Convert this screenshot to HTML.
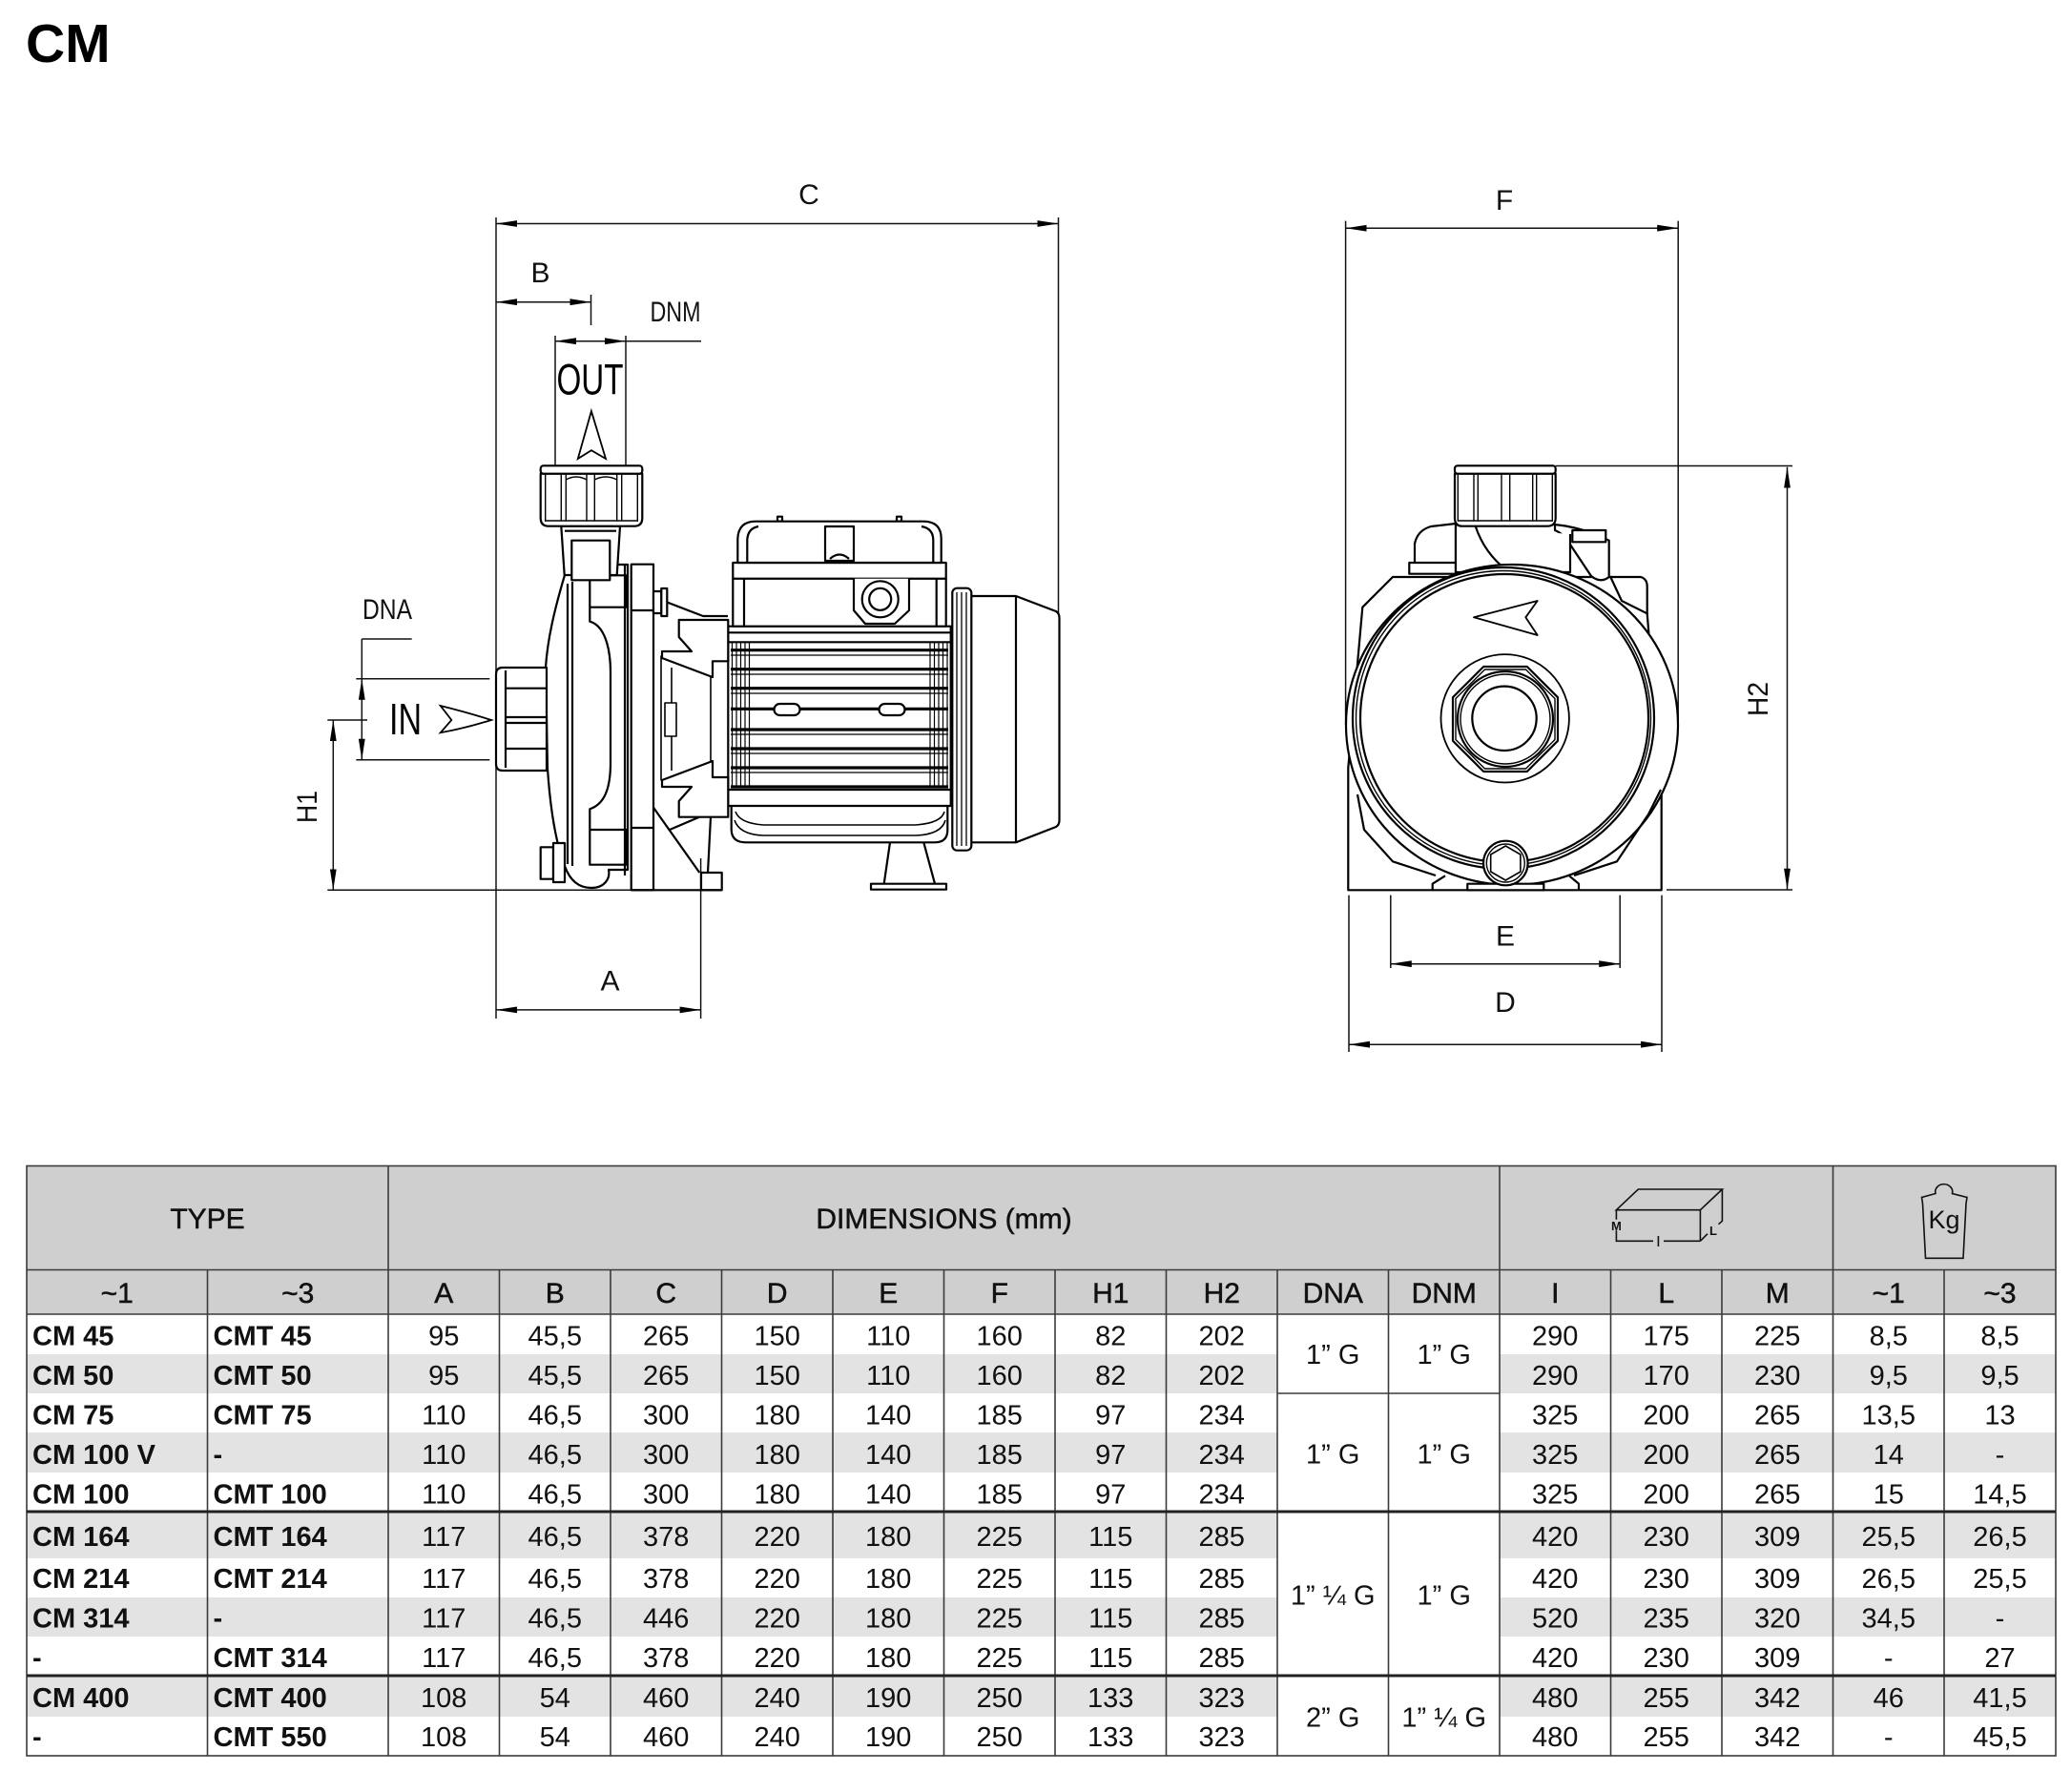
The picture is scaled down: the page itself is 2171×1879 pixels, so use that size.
<!DOCTYPE html>
<html><head><meta charset="utf-8"><style>
html,body{margin:0;padding:0;background:#fff;}
svg{display:block;}
text{font-family:"Liberation Sans",Arial,sans-serif;}
</style></head><body>
<svg width="2171" height="1879" viewBox="0 0 2171 1879" xmlns="http://www.w3.org/2000/svg">
<defs>
<marker id="ar" viewBox="0 0 22 8" refX="22" refY="4" markerWidth="22" markerHeight="8" markerUnits="userSpaceOnUse" orient="auto-start-reverse"><path d="M0,0.6 L22,4 L0,7.4 z" fill="#000"/></marker>
</defs>
<rect width="2171" height="1879" fill="#fff"/>
<text x="27" y="65" font-size="57" font-weight="bold" fill="#000">CM</text>

<!-- ===== Dimension lines ===== -->
<g stroke="#111" stroke-width="1.5" fill="none">
<!-- side view -->
<path d="M520,234.5 H1109.5" marker-start="url(#ar)" marker-end="url(#ar)"/>
<path d="M520,228 V1068"/>
<path d="M1109.5,228 V645"/>
<path d="M520,316.7 H619.5" marker-start="url(#ar)" marker-end="url(#ar)"/>
<path d="M619.5,309 V341"/>
<path d="M582,357.7 H656" marker-start="url(#ar)" marker-end="url(#ar)"/>
<path d="M656,357.7 H735"/>
<path d="M582,352 V488"/>
<path d="M656,352 V488"/>
<path d="M379.3,670 H431.7"/>
<path d="M379.3,670 V796.7"/>
<path d="M373.3,711.7 H513.3"/>
<path d="M373.3,796.7 H513.3"/>
<path d="M349.3,755 V933.3" marker-start="url(#ar)" marker-end="url(#ar)"/>
<path d="M343.3,755 H385"/>
<path d="M343.3,933.3 H661.7"/>
<path d="M520,1058.9 H734.6" marker-start="url(#ar)" marker-end="url(#ar)"/>
<path d="M734.6,900 V1068"/>
<!-- front view -->
<path d="M1410.6,239.2 H1759.2" marker-start="url(#ar)" marker-end="url(#ar)"/>
<path d="M1410.6,231.6 V760"/>
<path d="M1759.2,231.6 V760"/>
<path d="M1873.5,489.7 V932.7" marker-start="url(#ar)" marker-end="url(#ar)"/>
<path d="M1630.7,488.5 H1879"/>
<path d="M1747,933 H1879"/>
<path d="M1457.8,1010.7 H1698.2" marker-start="url(#ar)" marker-end="url(#ar)"/>
<path d="M1457.8,938.6 V1015"/>
<path d="M1698.2,938.6 V1015"/>
<path d="M1414,1095.2 H1742" marker-start="url(#ar)" marker-end="url(#ar)"/>
<path d="M1414,938.6 V1103"/>
<path d="M1742,938.6 V1103"/>
</g>
<g fill="#000">
<polygon points="379.3,711.7 375.9,733.7 382.7,733.7"/>
<polygon points="379.3,796.7 375.9,774.7 382.7,774.7"/>
</g>

<!-- arrows IN / OUT -->
<g stroke="#000" stroke-width="1.8" fill="#fff" stroke-linejoin="miter">
<path d="M605.8,481 L619.9,431.1 L635,481 L619.9,472.2 Z"/>
<path d="M461.7,740 Q490,747 515,755 Q490,763 461.7,768.3 L473.3,755 Z"/>
</g>

<!-- dimension labels -->
<g font-size="30" fill="#111" text-anchor="middle">
<text x="848" y="214">C</text>
<text x="566.5" y="296">B</text>
<text x="708" y="337" textLength="53" lengthAdjust="spacingAndGlyphs">DNM</text>
<text x="406" y="649" textLength="52" lengthAdjust="spacingAndGlyphs">DNA</text>
<text x="639.5" y="1038.5">A</text>
<text x="1577" y="220">F</text>
<text x="1578" y="991.5">E</text>
<text x="1578" y="1061">D</text>
<text x="321" y="857" transform="rotate(-90 321 846)" textLength="34" lengthAdjust="spacingAndGlyphs">H1</text>
<text x="1842" y="744" transform="rotate(-90 1842 733)" textLength="36" lengthAdjust="spacingAndGlyphs">H2</text>
</g>
<text x="618.5" y="413.5" font-size="45" text-anchor="middle" fill="#000" textLength="70" lengthAdjust="spacingAndGlyphs">OUT</text>
<text x="425" y="770" font-size="46" text-anchor="middle" fill="#000" textLength="34" lengthAdjust="spacingAndGlyphs">IN</text>

<!-- ===== Side view pump ===== -->
<g stroke="#000" stroke-width="2.2" fill="#fff" stroke-linejoin="round">
<!-- fan cover -->
<path d="M1018,625 L1065,625 L1107,641 Q1110.5,643 1110.5,648 L1110.5,860 Q1110.5,865 1107,867 L1065,883.3 L1018,883.3 Z"/>
<line x1="1065" y1="625" x2="1065" y2="883.3"/>
<rect x="998.3" y="616.7" width="20" height="275" rx="5"/>
<line x1="1003" y1="621" x2="1003" y2="887" stroke-width="1.3"/>
<line x1="1008" y1="621" x2="1008" y2="887" stroke-width="1.3"/>
<line x1="1013" y1="621" x2="1013" y2="887" stroke-width="1.3"/>
<!-- motor lower -->
<path d="M766.7,840 L766.7,870 Q767,883.3 782,883.3 L980,883.3 Q993.3,883.3 993.3,870 L993.3,840 Z"/>
<path d="M771,851 Q775,863 800,865 L960,865 Q987,863 990,851" fill="none" stroke-width="1.6"/>
<path d="M770,860 Q775,875 800,876 L960,876 Q987,875 991,860" fill="none" stroke-width="1.6"/>
<!-- motor frame -->
<rect x="763.3" y="656.7" width="233.4" height="188.3"/>
<line x1="763.3" y1="663.3" x2="996.7" y2="663.3"/>
<line x1="763.3" y1="673.3" x2="996.7" y2="673.3"/>
<line x1="763.3" y1="828" x2="996.7" y2="828"/>
<g stroke-width="3.2">
<line x1="766" y1="681.7" x2="994" y2="681.7"/>
<line x1="766" y1="701.7" x2="994" y2="701.7"/>
<line x1="766" y1="721.7" x2="994" y2="721.7"/>
<line x1="766" y1="743.3" x2="994" y2="743.3"/>
<line x1="766" y1="765" x2="994" y2="765"/>
<line x1="766" y1="785" x2="994" y2="785"/>
<line x1="766" y1="805" x2="994" y2="805"/>
<line x1="766" y1="825" x2="994" y2="825"/>
</g>
<g stroke-width="1.2">
<line x1="766" y1="687" x2="994" y2="687"/>
<line x1="766" y1="707" x2="994" y2="707"/>
<line x1="766" y1="727" x2="994" y2="727"/>
<line x1="766" y1="770" x2="994" y2="770"/>
<line x1="766" y1="790" x2="994" y2="790"/>
<line x1="766" y1="810" x2="994" y2="810"/>
<line x1="767.5" y1="673.3" x2="767.5" y2="825"/>
<line x1="772" y1="673.3" x2="772" y2="825"/>
<line x1="776.5" y1="673.3" x2="776.5" y2="825"/>
<line x1="781" y1="673.3" x2="781" y2="825"/>
<line x1="785.5" y1="673.3" x2="785.5" y2="825"/>
<line x1="975" y1="673.3" x2="975" y2="825"/>
<line x1="979.5" y1="673.3" x2="979.5" y2="825"/>
<line x1="984" y1="673.3" x2="984" y2="825"/>
<line x1="988.5" y1="673.3" x2="988.5" y2="825"/>
<line x1="993" y1="673.3" x2="993" y2="825"/>
</g>
<rect x="811.5" y="738" width="27" height="12" rx="6"/>
<rect x="921.5" y="738" width="27" height="12" rx="6"/>
<!-- terminal box -->
<rect x="768.3" y="606.7" width="223.4" height="50"/>
<line x1="780" y1="606.7" x2="780" y2="656.7"/>
<line x1="981.7" y1="606.7" x2="981.7" y2="656.7"/>
<rect x="768.3" y="590" width="223.4" height="16.7"/>
<rect x="815" y="541.7" width="5" height="5"/>
<rect x="940" y="541.7" width="5" height="5"/>
<path d="M773.3,590 L773.3,565 Q774,546.7 792,546.7 L968,546.7 Q986.7,546.7 986.7,565 L986.7,590 Z"/>
<path d="M783.3,590 L783.3,566 Q784,554 795,552" fill="none"/>
<path d="M978.3,590 L978.3,566 Q978,554 966,552" fill="none"/>
<rect x="865" y="552" width="30" height="36"/>
<path d="M870,586 Q880,577 890,586" fill="none"/>
<path d="M895,606.7 L895,640 L907,654 L938,654 L953,640 L953,606.7"/>
<circle cx="922.7" cy="628.3" r="19"/>
<circle cx="922.7" cy="628.3" r="11.5"/>
<!-- foot -->
<path d="M933,883.3 L926.7,926.7 M968.3,883.3 L980,926.7" fill="none"/>
<rect x="913" y="926.7" width="79" height="6"/>
<!-- lantern / bracket -->
<path d="M685,626 L737,646 L763,646" fill="none"/>
<rect x="693" y="688" width="52" height="130" stroke-width="1.6"/>
<line x1="704" y1="700" x2="704" y2="808" stroke-width="1.6"/>
<rect x="697" y="737" width="12" height="35" stroke-width="1.6"/>
<path d="M711.7,650 L763.3,650 L763.3,693.3 L747,693.3 L747,710 L694,690 L694,683 L725,683 L711.7,668 Z"/>
<path d="M711.7,856.7 L763.3,856.7 L763.3,815 L747,815 L747,798 L694,818 L694,825 L725,825 L711.7,840 Z"/>
<path d="M685,846.7 L733.3,915" fill="none"/>
<path d="M702,870 L733,856.7" fill="none"/>
<path d="M745,856.7 L742,915" fill="none"/>
<rect x="661.7" y="591.7" width="23.3" height="341.6"/>
<line x1="661.7" y1="640" x2="685" y2="640"/>
<line x1="661.7" y1="868" x2="685" y2="868"/>
<rect x="685" y="620" width="8.3" height="23"/>
<rect x="693.3" y="617" width="6" height="29"/>
<rect x="735" y="915" width="21.7" height="18.3"/>
<line x1="661.7" y1="933.3" x2="756.7" y2="933.3"/>
<!-- casing -->
<path d="M592,603 C581,640 574,670 572,700 L574,806 C577,850 583,885 592,908 C598,925 608,931 620,931 C633,931 640,922 638,912 L658,912 L658,592 L612,592 Z"/>
<line x1="595" y1="612" x2="595" y2="906"/>
<line x1="600" y1="610" x2="600" y2="908"/>
<rect x="618.3" y="603.3" width="38.4" height="33.4"/>
<rect x="618.3" y="870" width="38.4" height="36.7"/>
<path d="M618.3,636.7 L618.3,651.7 C634,656 640,680 640,705 L640,800 C640,826 634,843 618.3,848.3 L618.3,870" fill="none"/>
<line x1="655" y1="592" x2="655" y2="918"/>
<rect x="566.7" y="888.3" width="13.3" height="33.4"/>
<rect x="580" y="884" width="12" height="41"/>
<!-- neck -->
<path d="M588.3,551.7 L591.7,603 L646.7,603 L650,551.7 Z"/>
<rect x="599.3" y="566.7" width="40" height="41.6"/>
<line x1="592" y1="556.7" x2="646" y2="556.7"/>
<!-- outlet nut -->
<path d="M566.7,496.7 L566.7,543 Q566.7,551.7 575,551.7 L665,551.7 Q673.3,551.7 673.3,543 L673.3,496.7 Z"/>
<rect x="566.7" y="488.3" width="106.6" height="8.4" rx="3"/>
<g stroke-width="1.4">
<line x1="571.7" y1="496.7" x2="571.7" y2="546.7"/>
<line x1="588.3" y1="496.7" x2="588.3" y2="546.7"/>
<line x1="593.3" y1="496.7" x2="593.3" y2="546.7"/>
<line x1="615" y1="496.7" x2="615" y2="546.7"/>
<line x1="623.3" y1="496.7" x2="623.3" y2="546.7"/>
<line x1="646.7" y1="496.7" x2="646.7" y2="546.7"/>
<line x1="651.7" y1="496.7" x2="651.7" y2="546.7"/>
<line x1="668.3" y1="496.7" x2="668.3" y2="546.7"/>
<line x1="571" y1="546" x2="669" y2="546"/>
<path d="M593.3,503 Q604,497 615,503" fill="none"/>
<path d="M623.3,503 Q635,497 646.7,503" fill="none"/>
</g>
<!-- inlet nut -->
<path d="M573,700 L527,700 Q520,700 520,707 L520,801 Q520,808 527,808 L573,808 Z"/>
<line x1="530" y1="703" x2="530" y2="805"/>
<line x1="530" y1="721.7" x2="573" y2="721.7"/>
<line x1="530" y1="752" x2="573" y2="752"/>
<line x1="530" y1="758" x2="573" y2="758"/>
<line x1="530" y1="785" x2="573" y2="785"/>
</g>

<!-- ===== Front view pump ===== -->
<g stroke="#000" stroke-width="2.2" fill="#fff" stroke-linejoin="round">
<path d="M1413.3,933.3 L1413.3,805 L1428.3,636.7 L1460,605 L1690,605 L1726.7,643.3 L1741.7,828 L1741.7,933.3 Z"/>
<!-- top bumps -->
<path d="M1526,549 L1500,552 Q1486,556 1483,570 L1483,593 L1526,593 Z"/>
<rect x="1477.3" y="590" width="48.7" height="11.7"/>
<path d="M1630,550 Q1660,553 1686.7,566.7 L1686.7,605 Q1678,612 1668,604 L1646.7,572 Q1640,560 1630,556 Z"/>
<rect x="1648.3" y="556" width="35" height="12.3"/>
<path d="M1688.3,605 L1720,605 Q1726.7,607 1726.7,615 L1726.7,643.3 L1700,630 Z"/>
<path d="M1526,551 L1526,600 L1646,600 L1646,560" />
<path d="M1546.7,551.7 Q1556,580 1580,598.3" fill="none"/>
<!-- main circle -->
<ellipse cx="1585" cy="760" rx="174" ry="168"/>
<circle cx="1576" cy="753" r="158"/>
<circle cx="1576" cy="753" r="154.5" fill="none" stroke-width="1.4"/>
<circle cx="1577" cy="753" r="151" fill="none"/>
<path d="M1423,833 L1430,870 L1460,903.3 L1505,918" fill="none"/>
<path d="M1741,828 L1728.3,853.3 L1695,903.3 L1650,918" fill="none"/>
<path d="M1501.7,933.3 L1501.7,926.7 L1515,918.3" fill="none"/>
<path d="M1655,933.3 L1655,926.7 L1645,918.3" fill="none"/>
<rect x="1538.3" y="926.7" width="80" height="6.6"/>
<!-- outlet nut front -->
<path d="M1525,496.7 L1525,543 Q1525,551.7 1533,551.7 L1622,551.7 Q1630.7,551.7 1630.7,543 L1630.7,496.7 Z"/>
<rect x="1525" y="488.3" width="105.7" height="8.4" rx="3"/>
<g stroke-width="1.4">
<line x1="1528.3" y1="496.7" x2="1528.3" y2="546.7"/>
<line x1="1545" y1="496.7" x2="1545" y2="546.7"/>
<line x1="1549.3" y1="496.7" x2="1549.3" y2="546.7"/>
<line x1="1574" y1="496.7" x2="1574" y2="546.7"/>
<line x1="1582.7" y1="496.7" x2="1582.7" y2="546.7"/>
<line x1="1606.7" y1="496.7" x2="1606.7" y2="546.7"/>
<line x1="1610.7" y1="496.7" x2="1610.7" y2="546.7"/>
<line x1="1627.3" y1="496.7" x2="1627.3" y2="546.7"/>
<line x1="1528" y1="546" x2="1628" y2="546"/>
</g>
<!-- arrow -->
<path d="M1545,647.3 L1611.7,630 L1599.3,647.3 L1611.7,666 Z" stroke-width="1.8"/>
<!-- inlet -->
<circle cx="1577.7" cy="753.3" r="67.2" stroke-width="1.8"/>
<polygon points="1633,776.8 1600.8,809 1555.2,809 1523,776.8 1523,731.2 1555.2,699 1600.8,699 1633,731.2"/>
<polygon points="1630,775.5 1599.5,806 1556.5,806 1526,775.5 1526,732.5 1556.5,702 1599.5,702 1630,732.5" stroke-width="1.4"/>
<circle cx="1578" cy="754" r="50"/>
<circle cx="1578" cy="754" r="47" stroke-width="1.4"/>
<circle cx="1577" cy="753.3" r="33.7"/>
<!-- drain plug -->
<circle cx="1578.3" cy="905" r="23.3"/>
<circle cx="1578.3" cy="905" r="20" stroke-width="1.4"/>
<polygon points="1578.3,887 1593.9,896 1593.9,914 1578.3,923 1562.7,914 1562.7,896" stroke-width="1.6"/>
</g>

<!-- ===== TABLE ===== -->
<rect x="28" y="1222.5" width="2127" height="155.5" fill="#cfcfcf"/>
<g fill="#e3e3e3">
<rect x="28" y="1420" width="1311" height="41"/><rect x="1572" y="1420" width="583" height="41"/>
<rect x="28" y="1502" width="1311" height="42"/><rect x="1572" y="1502" width="583" height="42"/>
<rect x="28" y="1585" width="1311" height="49"/><rect x="1572" y="1585" width="583" height="49"/>
<rect x="28" y="1675" width="1311" height="41"/><rect x="1572" y="1675" width="583" height="41"/>
<rect x="28" y="1757" width="1311" height="43"/><rect x="1572" y="1757" width="583" height="43"/>
</g>
<g stroke="#3a3a3a" stroke-width="1.6" fill="none">
<rect x="28" y="1222.5" width="2127" height="618.5"/>
<line x1="28" y1="1331.5" x2="2155" y2="1331.5"/>
<line x1="28" y1="1378" x2="2155" y2="1378"/>
<line x1="407" y1="1222.5" x2="407" y2="1331.5"/>
<line x1="1572" y1="1222.5" x2="1572" y2="1331.5"/>
<line x1="1921.5" y1="1222.5" x2="1921.5" y2="1331.5"/>
<line x1="217.5" y1="1331.5" x2="217.5" y2="1841"/>
<line x1="407" y1="1331.5" x2="407" y2="1841"/>
<line x1="523.5" y1="1331.5" x2="523.5" y2="1841"/>
<line x1="640" y1="1331.5" x2="640" y2="1841"/>
<line x1="756.5" y1="1331.5" x2="756.5" y2="1841"/>
<line x1="873" y1="1331.5" x2="873" y2="1841"/>
<line x1="989.5" y1="1331.5" x2="989.5" y2="1841"/>
<line x1="1106" y1="1331.5" x2="1106" y2="1841"/>
<line x1="1222.5" y1="1331.5" x2="1222.5" y2="1841"/>
<line x1="1339" y1="1331.5" x2="1339" y2="1841"/>
<line x1="1455.5" y1="1331.5" x2="1455.5" y2="1841"/>
<line x1="1572" y1="1331.5" x2="1572" y2="1841"/>
<line x1="1688.5" y1="1331.5" x2="1688.5" y2="1841"/>
<line x1="1805" y1="1331.5" x2="1805" y2="1841"/>
<line x1="1921.5" y1="1331.5" x2="1921.5" y2="1841"/>
<line x1="2038" y1="1331.5" x2="2038" y2="1841"/>
<line x1="1339" y1="1461" x2="1572" y2="1461"/>
<line x1="28" y1="1585" x2="2155" y2="1585" stroke="#222" stroke-width="3"/>
<line x1="28" y1="1757" x2="2155" y2="1757" stroke="#222" stroke-width="3"/>
</g>

<!-- header texts -->
<g font-size="30" fill="#111" text-anchor="middle" stroke="#111" stroke-width="0.5">
<text x="217.5" y="1288">TYPE</text>
<text x="989.5" y="1288">DIMENSIONS (mm)</text>
<text x="122.75" y="1366">~1</text>
<text x="312.25" y="1366">~3</text>
<text x="465.25" y="1366">A</text>
<text x="581.75" y="1366">B</text>
<text x="698.25" y="1366">C</text>
<text x="814.75" y="1366">D</text>
<text x="931.25" y="1366">E</text>
<text x="1047.75" y="1366">F</text>
<text x="1164.25" y="1366">H1</text>
<text x="1280.75" y="1366">H2</text>
<text x="1397.25" y="1366">DNA</text>
<text x="1513.75" y="1366">DNM</text>
<text x="1630.25" y="1366">I</text>
<text x="1746.75" y="1366">L</text>
<text x="1863.25" y="1366">M</text>
<text x="1979.75" y="1366">~1</text>
<text x="2096.5" y="1366">~3</text>
</g>

<!-- box icon -->
<g stroke="#111" stroke-width="1.6" fill="none">
<path d="M1694.4,1268.7 L1717.3,1247 L1805.4,1247 L1782.4,1268.7 Z"/>
<path d="M1782.4,1268.7 L1782.4,1301.3"/>
<path d="M1805.4,1247 L1805.4,1280.3 L1801.5,1283.7"/>
<path d="M1782.4,1301.3 L1790,1293.7"/>
<path d="M1694.4,1268.7 L1694.4,1278.7 M1694.4,1290.3 L1694.4,1301.3 L1733,1301.3 M1744,1301.3 L1782.4,1301.3"/>
<path d="M1738.4,1296 L1738.4,1307"/>
</g>
<text x="1694.4" y="1290" font-size="13" font-weight="bold" text-anchor="middle" fill="#111">M</text>
<text x="1796" y="1295" font-size="13" font-weight="bold" text-anchor="middle" fill="#111">L</text>
<!-- Kg icon -->
<g stroke="#111" stroke-width="1.6" fill="none">
<path d="M2029,1251.5 A9,8 0 1 1 2046.5,1251.5 L2062,1255.5 L2061,1262 L2058,1319.3 L2018.5,1319.3 L2015.5,1262 L2014.5,1255.5 Z"/>
</g>
<text x="2038" y="1288" font-size="27" text-anchor="middle" fill="#111">Kg</text>

<!-- data -->
<g font-size="29" font-weight="bold" fill="#111">
<text x="34" y="1410.5">CM 45</text><text x="223.5" y="1410.5">CMT 45</text>
<text x="34" y="1452">CM 50</text><text x="223.5" y="1452">CMT 50</text>
<text x="34" y="1493.5">CM 75</text><text x="223.5" y="1493.5">CMT 75</text>
<text x="34" y="1535">CM 100 V</text><text x="223.5" y="1535">-</text>
<text x="34" y="1576.5">CM 100</text><text x="223.5" y="1576.5">CMT 100</text>
<text x="34" y="1621">CM 164</text><text x="223.5" y="1621">CMT 164</text>
<text x="34" y="1665">CM 214</text><text x="223.5" y="1665">CMT 214</text>
<text x="34" y="1706.5">CM 314</text><text x="223.5" y="1706.5">-</text>
<text x="34" y="1748">-</text><text x="223.5" y="1748">CMT 314</text>
<text x="34" y="1790">CM 400</text><text x="223.5" y="1790">CMT 400</text>
<text x="34" y="1831">-</text><text x="223.5" y="1831">CMT 550</text>
</g>
<g font-size="29" fill="#111" text-anchor="middle">
<!-- row 1 -->
<text x="465.25" y="1410.5">95</text><text x="581.75" y="1410.5">45,5</text><text x="698.25" y="1410.5">265</text><text x="814.75" y="1410.5">150</text><text x="931.25" y="1410.5">110</text><text x="1047.75" y="1410.5">160</text><text x="1164.25" y="1410.5">82</text><text x="1280.75" y="1410.5">202</text><text x="1630.25" y="1410.5">290</text><text x="1746.75" y="1410.5">175</text><text x="1863.25" y="1410.5">225</text><text x="1979.75" y="1410.5">8,5</text><text x="2096.5" y="1410.5">8,5</text>
<!-- row 2 -->
<text x="465.25" y="1452">95</text><text x="581.75" y="1452">45,5</text><text x="698.25" y="1452">265</text><text x="814.75" y="1452">150</text><text x="931.25" y="1452">110</text><text x="1047.75" y="1452">160</text><text x="1164.25" y="1452">82</text><text x="1280.75" y="1452">202</text><text x="1630.25" y="1452">290</text><text x="1746.75" y="1452">170</text><text x="1863.25" y="1452">230</text><text x="1979.75" y="1452">9,5</text><text x="2096.5" y="1452">9,5</text>
<!-- row 3 -->
<text x="465.25" y="1493.5">110</text><text x="581.75" y="1493.5">46,5</text><text x="698.25" y="1493.5">300</text><text x="814.75" y="1493.5">180</text><text x="931.25" y="1493.5">140</text><text x="1047.75" y="1493.5">185</text><text x="1164.25" y="1493.5">97</text><text x="1280.75" y="1493.5">234</text><text x="1630.25" y="1493.5">325</text><text x="1746.75" y="1493.5">200</text><text x="1863.25" y="1493.5">265</text><text x="1979.75" y="1493.5">13,5</text><text x="2096.5" y="1493.5">13</text>
<!-- row 4 -->
<text x="465.25" y="1535">110</text><text x="581.75" y="1535">46,5</text><text x="698.25" y="1535">300</text><text x="814.75" y="1535">180</text><text x="931.25" y="1535">140</text><text x="1047.75" y="1535">185</text><text x="1164.25" y="1535">97</text><text x="1280.75" y="1535">234</text><text x="1630.25" y="1535">325</text><text x="1746.75" y="1535">200</text><text x="1863.25" y="1535">265</text><text x="1979.75" y="1535">14</text><text x="2096.5" y="1535">-</text>
<!-- row 5 -->
<text x="465.25" y="1576.5">110</text><text x="581.75" y="1576.5">46,5</text><text x="698.25" y="1576.5">300</text><text x="814.75" y="1576.5">180</text><text x="931.25" y="1576.5">140</text><text x="1047.75" y="1576.5">185</text><text x="1164.25" y="1576.5">97</text><text x="1280.75" y="1576.5">234</text><text x="1630.25" y="1576.5">325</text><text x="1746.75" y="1576.5">200</text><text x="1863.25" y="1576.5">265</text><text x="1979.75" y="1576.5">15</text><text x="2096.5" y="1576.5">14,5</text>
<!-- row 6 -->
<text x="465.25" y="1621">117</text><text x="581.75" y="1621">46,5</text><text x="698.25" y="1621">378</text><text x="814.75" y="1621">220</text><text x="931.25" y="1621">180</text><text x="1047.75" y="1621">225</text><text x="1164.25" y="1621">115</text><text x="1280.75" y="1621">285</text><text x="1630.25" y="1621">420</text><text x="1746.75" y="1621">230</text><text x="1863.25" y="1621">309</text><text x="1979.75" y="1621">25,5</text><text x="2096.5" y="1621">26,5</text>
<!-- row 7 -->
<text x="465.25" y="1665">117</text><text x="581.75" y="1665">46,5</text><text x="698.25" y="1665">378</text><text x="814.75" y="1665">220</text><text x="931.25" y="1665">180</text><text x="1047.75" y="1665">225</text><text x="1164.25" y="1665">115</text><text x="1280.75" y="1665">285</text><text x="1630.25" y="1665">420</text><text x="1746.75" y="1665">230</text><text x="1863.25" y="1665">309</text><text x="1979.75" y="1665">26,5</text><text x="2096.5" y="1665">25,5</text>
<!-- row 8 -->
<text x="465.25" y="1706.5">117</text><text x="581.75" y="1706.5">46,5</text><text x="698.25" y="1706.5">446</text><text x="814.75" y="1706.5">220</text><text x="931.25" y="1706.5">180</text><text x="1047.75" y="1706.5">225</text><text x="1164.25" y="1706.5">115</text><text x="1280.75" y="1706.5">285</text><text x="1630.25" y="1706.5">520</text><text x="1746.75" y="1706.5">235</text><text x="1863.25" y="1706.5">320</text><text x="1979.75" y="1706.5">34,5</text><text x="2096.5" y="1706.5">-</text>
<!-- row 9 -->
<text x="465.25" y="1748">117</text><text x="581.75" y="1748">46,5</text><text x="698.25" y="1748">378</text><text x="814.75" y="1748">220</text><text x="931.25" y="1748">180</text><text x="1047.75" y="1748">225</text><text x="1164.25" y="1748">115</text><text x="1280.75" y="1748">285</text><text x="1630.25" y="1748">420</text><text x="1746.75" y="1748">230</text><text x="1863.25" y="1748">309</text><text x="1979.75" y="1748">-</text><text x="2096.5" y="1748">27</text>
<!-- row 10 -->
<text x="465.25" y="1790">108</text><text x="581.75" y="1790">54</text><text x="698.25" y="1790">460</text><text x="814.75" y="1790">240</text><text x="931.25" y="1790">190</text><text x="1047.75" y="1790">250</text><text x="1164.25" y="1790">133</text><text x="1280.75" y="1790">323</text><text x="1630.25" y="1790">480</text><text x="1746.75" y="1790">255</text><text x="1863.25" y="1790">342</text><text x="1979.75" y="1790">46</text><text x="2096.5" y="1790">41,5</text>
<!-- row 11 -->
<text x="465.25" y="1831">108</text><text x="581.75" y="1831">54</text><text x="698.25" y="1831">460</text><text x="814.75" y="1831">240</text><text x="931.25" y="1831">190</text><text x="1047.75" y="1831">250</text><text x="1164.25" y="1831">133</text><text x="1280.75" y="1831">323</text><text x="1630.25" y="1831">480</text><text x="1746.75" y="1831">255</text><text x="1863.25" y="1831">342</text><text x="1979.75" y="1831">-</text><text x="2096.5" y="1831">45,5</text>
<!-- merged DNA / DNM -->
<text x="1397.25" y="1430">1” G</text><text x="1513.75" y="1430">1” G</text>
<text x="1397.25" y="1534.5">1” G</text><text x="1513.75" y="1534.5">1” G</text>
<text x="1397.25" y="1682.5">1” ¼ G</text><text x="1513.75" y="1682.5">1” G</text>
<text x="1397.25" y="1810.5">2” G</text><text x="1513.75" y="1810.5">1” ¼ G</text>
</g>
</svg>
</body></html>
